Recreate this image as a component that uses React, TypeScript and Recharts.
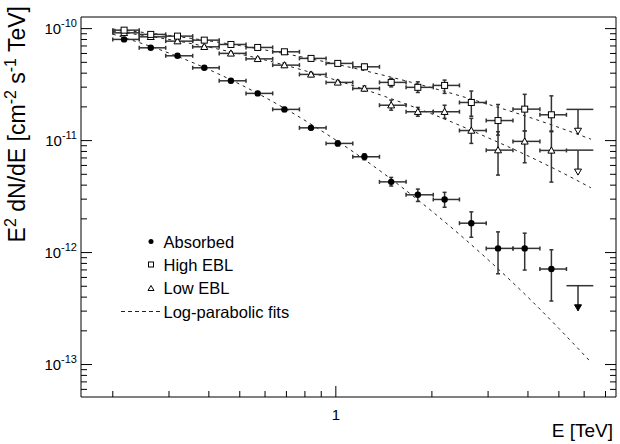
import { ComposedChart, ErrorBar, Line, Scatter, XAxis, YAxis } from "recharts";

// bin edges and mean energies (TeV)
const binEdges = [0.2, 0.242, 0.293, 0.356, 0.431, 0.523, 0.634, 0.769, 0.932, 1.13, 1.37, 1.66, 2.02, 2.44, 2.96, 3.59, 4.36, 5.28, 6.41];
const energies = [0.217, 0.263, 0.319, 0.387, 0.469, 0.569, 0.69, 0.836, 1.014, 1.229, 1.491, 1.807, 2.192, 2.658, 3.223, 3.907, 4.737];
const ulEnergy = 5.74;

// E^2 dN/dE  [cm^-2 s^-1 TeV]
const absorbedFlux = [8.01e-11, 6.74e-11, 5.72e-11, 4.47e-11, 3.42e-11, 2.64e-11, 1.9e-11, 1.3e-11, 9.44e-12, 7.17e-12, 4.28e-12, 3.28e-12, 2.98e-12, 1.83e-12, 1.09e-12, 1.09e-12, 7.13e-13];
const absorbedLo = [7.77e-11, 6.54e-11, 5.55e-11, 4.33e-11, 3.3e-11, 2.55e-11, 1.82e-11, 1.25e-11, 8.97e-12, 6.74e-12, 3.93e-12, 2.86e-12, 2.54e-12, 1.37e-12, 6.47e-13, 6.98e-13, 3.69e-13];
const absorbedHi = [8.26e-11, 6.95e-11, 5.9e-11, 4.61e-11, 3.54e-11, 2.74e-11, 1.98e-11, 1.36e-11, 9.94e-12, 7.63e-12, 4.69e-12, 3.69e-12, 3.45e-12, 2.31e-12, 1.53e-12, 1.49e-12, 1.06e-12];

const highFlux = [9.69e-11, 8.88e-11, 8.57e-11, 7.89e-11, 7.22e-11, 6.79e-11, 6.21e-11, 5.42e-11, 4.89e-11, 4.56e-11, 3.31e-11, 2.99e-11, 3.11e-11, 2.19e-11, 1.51e-11, 1.91e-11, 1.7e-11];
const highLo = [9.4e-11, 8.61e-11, 8.31e-11, 7.65e-11, 7.0e-11, 6.59e-11, 5.96e-11, 5.2e-11, 4.69e-11, 4.33e-11, 3.02e-11, 2.69e-11, 2.64e-11, 1.65e-11, 1.12e-11, 1.22e-11, 1.2e-11];
const highHi = [9.99e-11, 9.16e-11, 8.84e-11, 8.13e-11, 7.44e-11, 7.0e-11, 6.47e-11, 5.65e-11, 5.1e-11, 4.8e-11, 3.59e-11, 3.35e-11, 3.47e-11, 2.77e-11, 2.1e-11, 2.59e-11, 2.51e-11];

const lowFlux = [9.17e-11, 8.45e-11, 7.73e-11, 6.88e-11, 6.01e-11, 5.37e-11, 4.72e-11, 3.9e-11, 3.31e-11, 2.92e-11, 2.07e-11, 1.81e-11, 1.81e-11, 1.23e-11, 8.22e-12, 9.84e-12, 8.17e-12];
const lowLo = [8.89e-11, 8.2e-11, 7.5e-11, 6.67e-11, 5.83e-11, 5.21e-11, 4.53e-11, 3.74e-11, 3.18e-11, 2.77e-11, 1.87e-11, 1.65e-11, 1.58e-11, 9.44e-12, 4.92e-12, 6.34e-12, 4.26e-12];
const lowHi = [9.45e-11, 8.71e-11, 7.97e-11, 7.09e-11, 6.2e-11, 5.54e-11, 4.92e-11, 4.06e-11, 3.45e-11, 3.07e-11, 2.3e-11, 1.98e-11, 2.07e-11, 1.58e-11, 1.2e-11, 1.22e-11, 1.22e-11];

// upper limits in the last bin: [absorbed, high EBL, low EBL]
const ulFlux = [5.06e-13, 1.9e-11, 8.22e-12];
const ulArrowTip = [3.02e-13, 1.14e-11, 4.92e-12];

// log-parabolic fits
const fitEnergies = [0.2, 0.3, 0.5, 0.7, 1, 1.5, 2, 3, 4, 5, 6.3];
const absorbedFit = [8.93e-11, 6.05e-11, 3.19e-11, 1.9e-11, 1.01e-11, 4.47e-12, 2.34e-12, 8.63e-13, 3.99e-13, 2.1e-13, 1.05e-13];
const highFit = [9.9e-11, 8.69e-11, 7.05e-11, 5.94e-11, 4.82e-11, 3.67e-11, 2.96e-11, 2.11e-11, 1.63e-11, 1.31e-11, 1.03e-11];
const lowFit = [9.5e-11, 8.0e-11, 5.94e-11, 4.68e-11, 3.47e-11, 2.35e-11, 1.73e-11, 1.06e-11, 7.3e-12, 5.35e-12, 3.79e-12];

const xTicks = [0.2, 0.3, 0.4, 0.5, 0.6, 0.7, 0.8, 0.9, 1, 2, 3, 4, 5, 6, 7];
const xLabels: Record<number, string> = { 1: "1" };
const yTicks = [
  6e-14, 7e-14, 8e-14, 9e-14, 1e-13, 2e-13, 3e-13, 4e-13, 5e-13, 6e-13, 7e-13, 8e-13, 9e-13,
  1e-12, 2e-12, 3e-12, 4e-12, 5e-12, 6e-12, 7e-12, 8e-12, 9e-12,
  1e-11, 2e-11, 3e-11, 4e-11, 5e-11, 6e-11, 7e-11, 8e-11, 9e-11, 1e-10,
];
const yLabels: Record<string, string> = { "1e-13": "-13", "1e-12": "-12", "1e-11": "-11", "1e-10": "-10" };

const W = 620;
const H = 444;
const FONT = '"Liberation Sans", Arial, Helvetica, sans-serif';
const INK = "#000";
const xDomain = [0.159, 7.55];
const yDomain = [5.13e-14, 1.27e-10];

const points = (flux: number[], lo: number[], hi: number[]) =>
  energies.map((e, i) => ({
    e,
    f: flux[i],
    ex: [e - binEdges[i], binEdges[i + 1] - e],
    ey: [flux[i] - lo[i], hi[i] - flux[i]],
  }));

const fit = (vals: number[]) => fitEnergies.map((e, i) => ({ e, f: vals[i] }));

const ulRow = (i: number) => [
  {
    e: ulEnergy,
    f: ulFlux[i],
    ex: [ulEnergy - binEdges[17], binEdges[18] - ulEnergy],
    ey: [ulFlux[i] - ulArrowTip[i], 0],
  },
];
const tipRow = (i: number) => [{ e: ulEnergy, f: ulArrowTip[i] }];

const absorbedRows = points(absorbedFlux, absorbedLo, absorbedHi);
const highRows = points(highFlux, highLo, highHi);
const lowRows = points(lowFlux, lowLo, lowHi);

const Dot = ({ cx, cy }: any) => <circle cx={cx} cy={cy} r={3.2} fill={INK} />;
const OpenSquare = ({ cx, cy }: any) => (
  <rect x={cx - 3} y={cy - 3} width={6} height={6} fill="#fff" stroke={INK} />
);
const OpenTriangle = ({ cx, cy }: any) => (
  <polygon points={`${cx - 3.5},${cy + 2.7} ${cx + 3.5},${cy + 2.7} ${cx},${cy - 3.5}`} fill="#fff" stroke={INK} />
);
const arrowHead = (filled: boolean) => ({ cx, cy }: any) => (
  <polygon
    points={`${cx - 3.5},${cy - 6} ${cx + 3.5},${cy - 6} ${cx},${cy}`}
    fill={filled ? INK : "#fff"}
    stroke={INK}
  />
);
const Nothing = () => <g />;

function BottomTick({ x, y, payload }: any) {
  const label = xLabels[payload.value];
  return (
    <g>
      <line x1={x} x2={x} y1={y} y2={y - (label ? 11 : 6)} stroke={INK} />
      {label && (
        <text x={x} y={y + 23} textAnchor="middle" fontSize={15} fontFamily={FONT} fill={INK}>
          {label}
        </text>
      )}
    </g>
  );
}

function LeftTick({ x, y, payload }: any) {
  const exp = yLabels[String(payload.value)];
  return (
    <g>
      <line x1={x} x2={x + (exp ? 11 : 6)} y1={y} y2={y} stroke={INK} />
      {exp && (
        <text x={x - 4} y={y + 5} textAnchor="end" fontSize={15} fontFamily={FONT} fill={INK}>
          10
          <tspan dy={-7} fontSize={11}>
            {exp}
          </tspan>
        </text>
      )}
    </g>
  );
}

function RightTick({ x, y, payload }: any) {
  const major = String(payload.value) in yLabels;
  return <line x1={x} x2={x - (major ? 11 : 6)} y1={y} y2={y} stroke={INK} />;
}

export default function App() {
  return (
    <div style={{ position: "fixed", left: 0, top: 0, width: W, height: H, background: "#fff" }}>
      <ComposedChart width={W} height={H} margin={{ top: 16, right: 3, bottom: 46, left: 80 }}>
        <XAxis
          dataKey="e"
          type="number"
          scale="log"
          domain={xDomain}
          allowDataOverflow
          ticks={xTicks}
          interval={0}
          height={1}
          tickSize={0}
          tickMargin={0}
          tickLine={false}
          tick={<BottomTick />}
          axisLine={{ stroke: INK }}
        />
        <XAxis
          xAxisId="top"
          orientation="top"
          type="number"
          scale="log"
          domain={xDomain}
          allowDataOverflow
          ticks={xTicks}
          height={1}
          tick={false}
          tickLine={false}
          axisLine={{ stroke: INK }}
        />
        <YAxis
          type="number"
          scale="log"
          domain={yDomain}
          allowDataOverflow
          ticks={yTicks}
          interval={0}
          width={1}
          tickSize={0}
          tickMargin={0}
          tickLine={false}
          tick={<LeftTick />}
          axisLine={{ stroke: INK }}
        />
        <YAxis
          yAxisId="right"
          orientation="right"
          type="number"
          scale="log"
          domain={yDomain}
          allowDataOverflow
          ticks={yTicks}
          interval={0}
          width={1}
          tickSize={0}
          tickMargin={0}
          tickLine={false}
          tick={<RightTick />}
          axisLine={{ stroke: INK }}
        />

        <Line data={fit(absorbedFit)} dataKey="f" type="monotone" stroke="#222" strokeDasharray="3 4" dot={false} isAnimationActive={false} />
        <Line data={fit(highFit)} dataKey="f" type="monotone" stroke="#222" strokeDasharray="3 4" dot={false} isAnimationActive={false} />
        <Line data={fit(lowFit)} dataKey="f" type="monotone" stroke="#222" strokeDasharray="3 4" dot={false} isAnimationActive={false} />

        <Scatter data={lowRows} dataKey="f" shape={<OpenTriangle />} isAnimationActive={false}>
          <ErrorBar dataKey="ex" direction="x" width={2} stroke="#333" isAnimationActive={false} />
          <ErrorBar dataKey="ey" direction="y" width={2} stroke="#333" isAnimationActive={false} />
        </Scatter>
        <Scatter data={highRows} dataKey="f" shape={<OpenSquare />} isAnimationActive={false}>
          <ErrorBar dataKey="ex" direction="x" width={2} stroke="#333" isAnimationActive={false} />
          <ErrorBar dataKey="ey" direction="y" width={2} stroke="#333" isAnimationActive={false} />
        </Scatter>
        <Scatter data={absorbedRows} dataKey="f" shape={<Dot />} isAnimationActive={false}>
          <ErrorBar dataKey="ex" direction="x" width={2} stroke="#333" isAnimationActive={false} />
          <ErrorBar dataKey="ey" direction="y" width={2} stroke="#333" isAnimationActive={false} />
        </Scatter>

        {[0, 1, 2].map((i) => (
          <Scatter key={`ul${i}`} data={ulRow(i)} dataKey="f" shape={<Nothing />} isAnimationActive={false}>
            <ErrorBar dataKey="ex" direction="x" width={0} stroke="#333" isAnimationActive={false} />
            <ErrorBar dataKey="ey" direction="y" width={0} stroke="#333" isAnimationActive={false} />
          </Scatter>
        ))}
        {[0, 1, 2].map((i) => (
          <Scatter key={`tip${i}`} data={tipRow(i)} dataKey="f" shape={arrowHead(i === 0)} isAnimationActive={false} />
        ))}
      </ComposedChart>

      <svg
        width={W}
        height={H}
        style={{ position: "absolute", left: 0, top: 0, pointerEvents: "none" }}
        fontFamily={FONT}
      >
        <text x={613} y={437} textAnchor="end" fontSize={19} fill={INK}>
          E [TeV]
        </text>
        <text transform="translate(25,6) rotate(-90)" textAnchor="end" fontSize={23} fill={INK}>
          E<tspan dy={-9} fontSize={16}>2</tspan>
          <tspan dy={9}> dN/dE [cm</tspan>
          <tspan dy={-9} fontSize={16}>-2</tspan>
          <tspan dy={9}> s</tspan>
          <tspan dy={-9} fontSize={16}>-1</tspan>
          <tspan dy={9}> TeV]</tspan>
        </text>

        <g fontSize={16.5} fill={INK}>
          <circle cx={151} cy={241.5} r={2.5} fill={INK} />
          <text x={163.5} y={241.5} dominantBaseline="central">Absorbed</text>
          <rect x={148.5} y={262} width={5} height={5} fill="#fff" stroke={INK} />
          <text x={163.5} y={264.5} dominantBaseline="central">High EBL</text>
          <polygon points="148,290.5 154,290.5 151,285.5" fill="#fff" stroke={INK} />
          <text x={163.5} y={288} dominantBaseline="central">Low EBL</text>
          <line x1={121} x2={160} y1={311.5} y2={311.5} stroke="#222" strokeDasharray="4 3" />
          <text x={163.5} y={311.5} dominantBaseline="central">Log-parabolic fits</text>
        </g>
      </svg>
    </div>
  );
}
